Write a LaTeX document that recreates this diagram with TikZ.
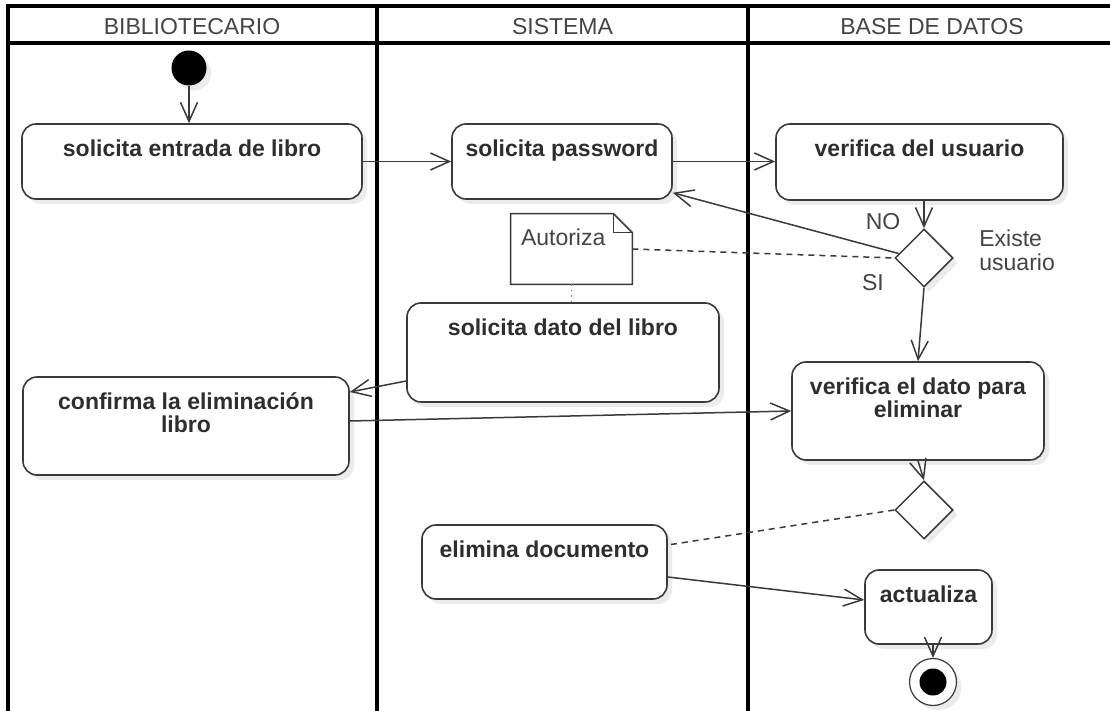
\documentclass[tikz,border=0pt]{standalone}
\usepackage{fontspec}
\setmainfont{Liberation Sans}
\usetikzlibrary{arrows.meta,shapes.geometric,shadows,positioning}

\definecolor{linea}{HTML}{3A3A3A}
\definecolor{texto}{HTML}{2E2E2E}
\definecolor{cabecera}{HTML}{444444}

\tikzset{
  sombra/.style={drop shadow={shadow xshift=2.5pt, shadow yshift=-2.5pt, fill=black, opacity=0.08}},
  actividad/.style={draw=linea, line width=0.8pt, rounded corners=7pt, fill=white, sombra},
  titulo/.style={anchor=north, inner sep=0pt, yshift=-8pt, align=center, text=texto,
    font=\fontsize{11.5}{11.5}\selectfont\bfseries},
  etiqueta/.style={inner sep=0pt, text=cabecera, font=\fontsize{11.5}{12}\selectfont},
  flujo/.style={draw=linea, line width=0.75pt, -{Straight Barb[length=9.5pt,width=8.5pt]}},
  enlace/.style={draw=linea, line width=0.75pt, dashed, dash pattern=on 3pt off 2.5pt},
  decision/.style={diamond, draw=linea, line width=0.75pt, fill=white, aspect=1,
    minimum width=29pt, minimum height=29pt, inner sep=0pt, sombra},
  inicio/.style={circle, fill=black, minimum size=17.5pt, inner sep=0pt, sombra},
  final/.style={circle, draw=linea, line width=0.6pt, fill=white, minimum size=23.5pt, inner sep=0pt, sombra,
    path picture={\fill[black] (path picture bounding box.center) circle (6.75pt);}},
  carril/.style={line width=1.6pt, black}
}

\begin{document}
\begin{tikzpicture}[x=0.5pt, y=-0.5pt]
  \fill[white] (0,0) rectangle (1110,711);
  \useasboundingbox (0,0) rectangle (1110,711);

  % carriles
  \draw[carril] (8,711) -- (8,6) -- (1110,6);
  \draw[carril] (8,43) -- (1110,43);
  \draw[carril] (377,6) -- (377,711);
  \draw[carril] (748,6) -- (748,711);
  \node[etiqueta] (bibliotecario) at (192,27) {BIBLIOTECARIO};
  \node[etiqueta] (sistema) at (562.5,27) {SISTEMA};
  \node[etiqueta] (basedatos) at (932,27) {BASE DE DATOS};

  % nodos
  \node[inicio] (inicio) at (189,68) {};
  \node[actividad, minimum width=170pt, minimum height=37.5pt,
    label={[titulo]north:solicita entrada de libro}] (entrada) at (192,161.5) {};
  \node[actividad, minimum width=110pt, minimum height=37.5pt,
    label={[titulo]north:solicita password}] (password) at (562,161.5) {};
  \node[actividad, minimum width=143.5pt, minimum height=38pt,
    label={[titulo]north:verifica del usuario}] (usuario) at (919.5,162) {};
  \node[decision] (existe) at (924,258) {};
  \node[etiqueta] (no) at (883,222) {NO};
  \node[etiqueta] (si) at (873,283) {SI};
  \node[etiqueta, anchor=west, align=left] (existetxt) at (979,250) {Existe\\usuario};

  \node[minimum width=60.5pt, minimum height=35pt, inner sep=0pt] (autoriza) at (571.5,249) {};
  \draw[linea, line width=0.75pt, fill=white] (autoriza.north west) -- ([xshift=-9.5pt]autoriza.north east)
    -- ([yshift=-9.5pt]autoriza.north east) -- (autoriza.south east) -- (autoriza.south west) -- cycle;
  \draw[linea, line width=0.6pt] ([xshift=-9.5pt]autoriza.north east) -- ++(0,-9.5pt) -- ([yshift=-9.5pt]autoriza.north east);
  \node[etiqueta, anchor=north west] (autorizatxt) at ([xshift=5pt, yshift=-7.2pt]autoriza.north west) {Autoriza};

  \node[actividad, minimum width=156pt, minimum height=49.5pt,
    label={[titulo]north:solicita dato del libro}] (dato) at (563,352.5) {};
  \node[actividad, minimum width=163pt, minimum height=49pt,
    label={[titulo]north:confirma la eliminación\\libro}] (confirma) at (186,426) {};
  \node[actividad, minimum width=126pt, minimum height=49pt,
    label={[titulo]north:verifica el dato para\\eliminar}] (verifica) at (918,411) {};
  \node[decision] (eliminar) at (924,510) {};
  \node[actividad, minimum width=122.5pt, minimum height=37pt,
    label={[titulo]north:elimina documento}] (elimina) at (544.5,562) {};
  \node[actividad, minimum width=63.5pt, minimum height=37pt,
    label={[titulo]north:actualiza}] (actualiza) at (928.5,607) {};
  \node[final] (fin) at (933,682) {};

  % flujos
  \draw[flujo] (inicio) -- (inicio |- entrada.north);
  \draw[flujo] (entrada.east) -- (password.west);
  \draw[flujo] (password.east) -- (password.east -| usuario.west);
  \draw[flujo] (existe.north |- usuario.south) -- (existe.north);
  \draw[flujo] (existe.170) -- ([yshift=3.5pt]password.south east);
  \draw[enlace] (autoriza.east) -- (existe.west);
  \draw[linea!70, line width=0.7pt, dotted] (autoriza.south) -- (autoriza.south |- dato.north);
  \draw[flujo] (existe.south) -- (verifica.north);
  \draw[flujo] ([yshift=-14.25pt]dato.west) -- ([yshift=17pt]confirma.east);
  \draw[flujo] ([yshift=2.5pt]confirma.east) -- (verifica.west);
  \draw[flujo] (verifica.south) -- (eliminar.north);
  \draw[enlace] (eliminar.west) -- ([yshift=8.5pt]elimina.east);
  \draw[flujo] ([yshift=-7.5pt]elimina.east) -- ([yshift=3.5pt]actualiza.west);
  \draw[flujo] (fin.north |- actualiza.south) -- (fin.north);
\end{tikzpicture}
\end{document}
